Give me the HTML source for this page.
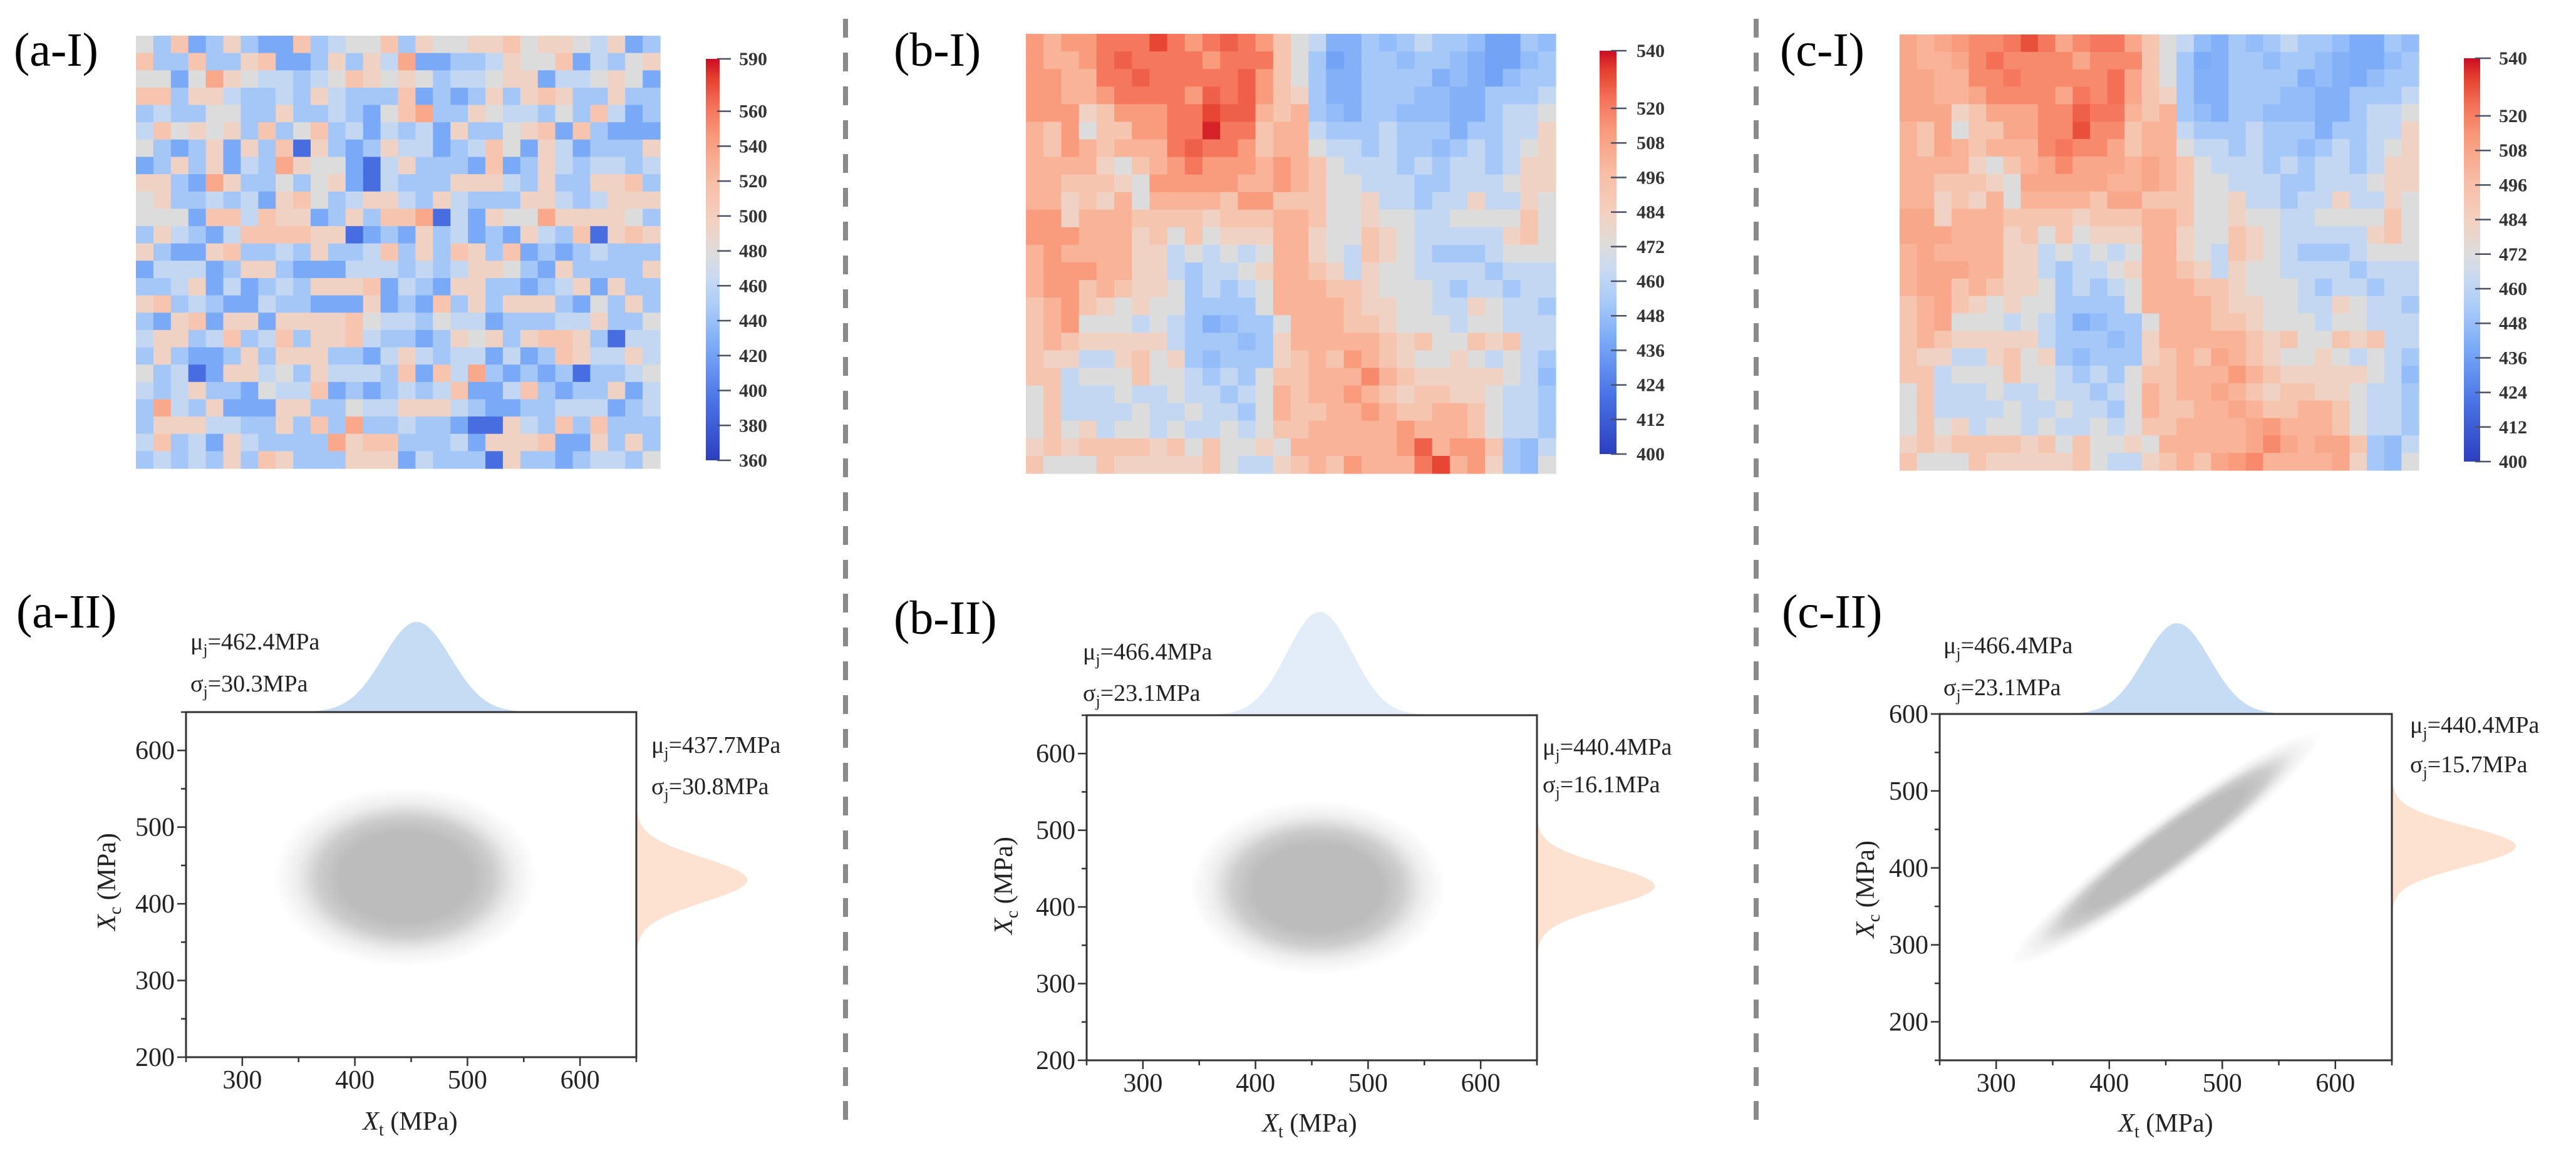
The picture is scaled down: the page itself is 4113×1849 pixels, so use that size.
<!DOCTYPE html>
<html><head><meta charset="utf-8"><style>
html,body{margin:0;padding:0;background:#fff;}
svg, svg text{font-family:"Liberation Serif","Times New Roman","DejaVu Serif",serif;}
</style></head><body>
<svg id="fig" width="4113" height="1844" viewBox="0 0 4113 1844" xmlns="http://www.w3.org/2000/svg" font-family="Liberation Serif, Times New Roman, serif">
<defs>
<linearGradient id="cmapV" x1="0" y1="1" x2="0" y2="0">
<stop offset="0" stop-color="#2c3fbf"/><stop offset="0.15" stop-color="#4b74e6"/><stop offset="0.28" stop-color="#79a9f7"/><stop offset="0.38" stop-color="#a9cbf8"/><stop offset="0.46" stop-color="#cbdaf0"/><stop offset="0.52" stop-color="#dedcda"/><stop offset="0.60" stop-color="#f4d0c0"/><stop offset="0.70" stop-color="#f8bca4"/><stop offset="0.80" stop-color="#f99b7d"/><stop offset="0.88" stop-color="#f5735a"/><stop offset="0.95" stop-color="#e4412f"/><stop offset="1" stop-color="#cc0d24"/>
</linearGradient>
<radialGradient id="cloudGrad" cx="0.5" cy="0.5" r="0.5">
<stop offset="0" stop-color="#bcbcbc" stop-opacity="1"/><stop offset="0.5" stop-color="#bcbcbc" stop-opacity="1"/><stop offset="0.66" stop-color="#c0c0c0" stop-opacity="0.8"/><stop offset="0.82" stop-color="#c6c6c6" stop-opacity="0.3"/><stop offset="1" stop-color="#cccccc" stop-opacity="0"/>
</radialGradient>
</defs>
<line x1="1350" y1="30" x2="1350" y2="1790" stroke="#8a8a8a" stroke-width="8" stroke-dasharray="30 24"/>
<line x1="2804" y1="30" x2="2804" y2="1790" stroke="#8a8a8a" stroke-width="8" stroke-dasharray="30 24"/>
<text x="22" y="105" font-size="76" font-family="Liberation Serif, serif">(a-I)</text>
<text x="1427" y="105" font-size="76" font-family="Liberation Serif, serif">(b-I)</text>
<text x="2842" y="105" font-size="76" font-family="Liberation Serif, serif">(c-I)</text>
<text x="26" y="1002" font-size="76" font-family="Liberation Serif, serif">(a-II)</text>
<text x="1427" y="1012" font-size="76" font-family="Liberation Serif, serif">(b-II)</text>
<text x="2845" y="1002" font-size="76" font-family="Liberation Serif, serif">(c-II)</text>
<g id="layer"></g>
</svg>
<script>
const heatA = [
[478,445,512,425,445,495,445,425,425,512,445,462,478,478,512,445,495,478,478,495,495,512,478,495,495,478,462,495,425,445],
[512,445,445,512,445,445,495,512,425,425,445,495,445,495,462,535,425,425,445,445,462,495,478,478,512,425,462,445,478,495],
[478,478,425,478,535,495,478,462,462,445,462,478,512,495,478,495,478,445,462,462,478,495,495,425,462,462,478,495,478,425],
[512,512,445,495,495,462,445,445,462,445,495,462,445,445,445,512,425,445,425,445,495,445,495,512,495,445,445,495,445,445],
[445,462,445,445,478,478,445,445,495,445,445,462,445,425,478,512,535,445,445,495,478,462,462,445,478,445,512,462,425,445],
[462,512,478,495,478,495,445,512,445,478,512,445,462,425,462,445,462,425,495,445,445,478,495,512,425,512,445,425,425,425],
[478,445,425,445,495,425,495,445,512,390,495,445,425,445,495,462,462,425,445,462,512,478,425,495,462,425,445,445,445,495],
[425,445,495,445,495,425,462,445,535,495,478,478,425,390,462,495,445,445,445,425,512,425,445,495,462,445,462,462,445,462],
[495,495,445,425,535,495,445,445,478,445,478,495,425,390,462,445,445,445,495,495,495,462,445,495,445,445,495,495,512,445],
[478,495,445,445,462,445,462,425,495,512,478,445,462,495,495,462,445,495,462,445,445,445,495,495,462,445,462,495,495,495],
[478,478,478,425,512,512,462,512,495,495,425,445,495,445,512,512,535,390,462,425,495,478,478,535,495,495,495,495,478,445],
[445,495,462,445,425,462,512,512,512,512,495,495,390,425,445,425,495,445,462,425,445,425,495,462,445,512,390,495,512,495],
[495,445,425,425,495,512,445,445,462,445,495,445,445,462,512,445,495,445,512,495,445,512,425,445,425,445,462,445,445,445],
[425,462,462,462,425,445,495,495,445,425,425,425,462,462,462,445,462,445,462,495,495,478,445,425,495,445,445,445,445,495],
[445,445,462,495,425,462,425,445,462,445,495,495,495,512,425,462,445,425,495,495,445,445,425,445,462,495,425,495,445,445],
[495,512,445,462,445,425,425,462,445,445,425,425,425,495,425,445,425,512,445,495,445,495,495,495,445,425,478,445,495,445],
[445,425,495,512,425,495,495,425,495,495,495,495,512,478,462,462,445,478,462,462,425,445,445,445,462,462,495,445,445,478],
[462,495,495,445,462,512,445,462,512,445,495,495,512,462,445,445,425,445,495,478,495,445,495,512,512,495,445,390,462,462],
[445,495,445,425,425,445,495,445,495,495,495,445,445,425,462,495,462,445,462,462,425,462,425,445,512,495,462,462,495,462],
[478,445,462,390,425,495,495,462,478,445,495,462,462,462,445,512,425,512,462,535,445,425,445,425,445,390,445,445,462,478],
[462,445,462,495,445,445,425,478,462,462,512,425,445,425,445,462,445,462,512,425,425,462,512,445,425,445,445,495,425,462],
[445,535,462,445,495,425,425,425,495,495,445,445,478,462,462,495,495,495,462,445,425,425,445,445,462,462,462,425,445,462],
[445,495,495,495,462,462,445,445,495,445,512,445,535,445,445,462,445,445,425,390,390,495,462,445,512,445,512,445,445,445],
[462,512,445,462,425,495,462,445,445,445,445,535,495,512,512,445,445,445,462,425,495,495,495,512,425,425,495,445,495,445],
[445,462,445,462,445,495,445,512,495,445,445,445,495,495,495,425,462,445,445,445,390,495,445,445,425,445,462,462,445,478]
];
const heatB = [
[512,502,512,512,522,522,522,532,522,512,522,527,522,512,492,472,462,442,442,452,447,452,462,452,452,447,437,437,452,447],
[512,502,502,512,522,527,522,522,522,522,512,522,522,522,492,472,452,437,442,452,452,447,452,452,447,442,437,437,447,452],
[512,512,502,502,522,522,527,522,522,522,522,522,527,512,492,472,452,442,442,452,452,452,452,442,447,442,437,447,452,452],
[512,512,502,502,512,522,522,522,522,512,527,522,527,512,492,482,452,442,442,452,452,452,447,447,442,442,452,452,452,462],
[512,512,512,482,492,512,512,512,522,522,532,527,527,502,492,502,452,447,442,452,452,447,447,447,442,442,452,462,462,472],
[502,492,512,472,492,492,512,512,522,522,537,522,522,492,502,502,462,452,452,452,462,452,452,452,442,452,452,462,462,482],
[502,492,512,502,492,502,502,502,522,527,522,522,512,492,502,502,472,462,462,452,462,452,452,447,452,462,452,462,472,482],
[502,502,502,502,482,472,492,502,512,522,512,512,512,502,512,502,492,472,462,462,462,452,462,452,462,462,452,462,482,482],
[502,502,492,492,492,482,472,512,512,512,512,512,502,502,512,502,492,472,472,462,462,462,452,452,462,462,462,472,482,482],
[502,502,482,492,482,502,472,502,502,502,502,492,512,512,492,492,492,472,472,482,462,462,452,462,462,482,462,462,482,472],
[512,512,482,502,502,502,492,492,492,492,482,492,492,492,502,502,492,472,472,482,472,472,462,462,472,472,472,472,492,472],
[512,512,512,502,502,502,482,492,472,492,472,482,482,482,502,502,482,472,472,492,482,472,462,462,462,462,462,482,492,472],
[502,512,502,502,502,502,482,482,462,472,462,472,462,472,502,502,482,472,462,492,482,472,462,452,452,452,462,472,472,472],
[502,512,512,512,502,502,482,482,462,452,462,462,472,482,502,502,492,482,462,482,472,472,462,462,462,462,452,462,462,462],
[502,512,512,492,502,492,482,482,472,452,462,452,462,472,502,502,502,492,492,482,472,472,472,462,452,462,462,452,462,462],
[492,502,512,492,482,472,482,472,472,452,452,452,452,472,502,502,502,502,492,482,482,472,472,462,462,482,472,462,462,452],
[492,502,512,472,472,472,462,472,462,452,442,447,452,452,472,502,502,502,492,492,482,472,472,472,462,472,472,462,462,462],
[492,502,492,482,482,482,482,482,462,452,452,452,447,452,482,502,502,502,502,502,492,482,492,472,472,492,482,492,462,462],
[492,482,482,462,462,482,492,472,482,452,447,452,452,452,482,492,502,492,512,502,492,482,472,472,482,472,462,472,462,452],
[492,492,462,472,472,472,492,472,472,462,452,462,452,472,492,492,502,502,502,517,502,492,482,482,482,482,482,472,462,447],
[472,492,462,462,462,472,462,462,472,462,462,452,462,472,502,492,502,502,512,502,492,482,492,492,482,482,472,462,462,452],
[472,492,462,462,462,462,472,462,462,472,462,462,452,472,502,492,492,502,502,512,502,492,492,502,502,492,472,462,462,452],
[472,492,472,482,462,472,472,462,472,462,462,472,462,472,492,492,502,502,502,502,502,512,502,502,502,492,472,462,462,452],
[482,492,482,492,492,492,492,482,492,472,492,472,472,482,472,502,502,502,502,502,502,512,527,502,512,512,492,452,447,462],
[492,472,472,472,492,482,482,482,482,482,492,472,462,462,482,492,502,492,512,502,502,502,522,532,502,512,482,452,447,472]
];
const heatC = [
[507,502,507,512,517,517,522,530,522,507,517,522,522,507,492,472,462,447,442,452,447,452,462,452,452,447,440,440,452,447],
[507,502,502,507,517,524,517,517,517,517,507,517,517,517,492,472,452,440,442,452,452,447,452,452,447,442,440,440,447,452],
[507,507,502,502,517,517,522,517,517,517,517,517,524,507,492,472,452,442,442,452,452,452,452,442,447,442,440,447,452,452],
[507,507,502,502,507,517,517,517,517,507,522,517,524,507,492,482,452,442,442,452,452,452,447,447,442,442,452,452,452,462],
[507,507,507,482,492,507,507,507,517,517,527,522,522,502,492,502,452,447,442,452,452,447,447,447,442,442,452,462,462,472],
[502,492,507,472,492,492,507,507,517,517,530,517,517,492,502,502,462,452,452,452,462,452,452,452,442,452,452,462,462,482],
[502,492,507,502,492,502,502,502,517,522,517,517,507,492,502,502,472,462,462,452,462,452,452,447,452,462,452,462,472,482],
[502,502,502,502,482,472,492,502,507,517,507,507,507,502,507,502,492,472,462,462,462,452,462,452,462,462,452,462,482,482],
[502,502,492,492,492,482,472,507,507,507,507,507,502,502,507,502,492,472,472,462,462,462,452,452,462,462,462,472,482,482],
[502,502,482,492,482,502,472,502,502,502,502,492,507,507,492,492,492,472,472,482,462,462,452,462,462,482,462,462,482,472],
[507,507,482,502,502,502,492,492,492,492,482,492,492,492,502,502,492,472,472,482,472,472,462,462,472,472,472,472,492,472],
[507,507,507,502,502,502,482,492,472,492,472,482,482,482,502,502,482,472,472,492,482,472,462,462,462,462,462,482,492,472],
[502,507,502,502,502,502,482,482,462,472,462,472,462,472,502,502,482,472,462,492,482,472,462,452,452,452,462,472,472,472],
[502,507,507,507,502,502,482,482,462,452,462,462,472,482,502,502,492,482,462,482,472,472,462,462,462,462,452,462,462,462],
[502,507,507,492,502,492,482,482,472,452,462,452,462,472,502,502,502,492,492,482,472,472,472,462,452,462,462,452,462,462],
[492,502,507,492,482,472,482,472,472,452,452,452,452,472,502,502,502,502,492,482,482,472,472,462,462,482,472,462,462,452],
[492,502,507,472,472,472,462,472,462,452,442,447,452,452,472,502,502,502,492,492,482,472,472,472,462,472,472,462,462,462],
[492,502,492,482,482,482,482,482,462,452,452,452,447,452,482,502,502,502,502,502,492,482,492,472,472,492,482,492,462,462],
[492,482,482,462,462,482,492,472,482,452,447,452,452,452,482,492,502,492,507,502,492,482,472,472,482,472,462,472,462,452],
[492,492,462,472,472,472,492,472,472,462,452,462,452,472,492,492,502,502,502,512,502,492,482,482,482,482,482,472,462,447],
[472,492,462,462,462,472,462,462,472,462,462,452,462,472,502,492,502,502,507,502,492,482,492,492,482,482,472,462,462,452],
[472,492,462,462,462,462,472,462,462,472,462,462,452,472,502,492,492,502,502,507,502,492,492,502,502,492,472,462,462,452],
[472,492,472,482,462,472,472,462,472,462,462,472,462,472,492,492,502,502,502,502,507,512,502,502,502,492,472,462,462,452],
[482,492,482,492,492,492,492,482,492,472,492,472,472,482,472,502,502,502,502,502,507,517,507,502,507,507,492,452,447,462],
[492,472,472,472,492,482,482,482,482,482,492,472,462,462,482,492,502,492,507,512,517,502,502,502,502,507,482,452,447,472]
];
const cbTicksA = [360,380,400,420,440,460,480,500,520,540,560,590];
const cbTicksB = [400,412,424,436,448,460,472,484,496,508,520,540];
const cbTicksC = [400,412,424,436,448,460,472,484,496,508,520,540];
const xTicks = [300,400,500,600];
const yTicks = [200,300,400,500,600];
const cloudMeanX = [445,455,450];
const cloudMeanY = [435,425,425];
const cloudSdX = [31,30,36];
const cloudSdY = [31,30,40];
const cloudRho = [0,0,0.955];
const topMu = [455,457,460];
const topSd = [30,29,29];
const rightMu = [431,427,428];
const rightSd = [29,27,26];
const muTopText = ["462.4","466.4","466.4"];
const sdTopText = ["30.3","23.1","23.1"];
const muRightText = ["437.7","440.4","440.4"];
const sdRightText = ["30.8","16.1","15.7"];

const NS = "http://www.w3.org/2000/svg";
const FONT = "Liberation Serif, Times New Roman, serif";
const layer = document.getElementById('layer');
function mk(tag, attrs, parent){const e=document.createElementNS(NS,tag);for(const k in attrs)e.setAttribute(k,attrs[k]);if(tag==='text')e.setAttribute('font-family',FONT);(parent||layer).appendChild(e);return e;}
const stops=[[0,[44,63,191]],[0.15,[75,116,230]],[0.28,[121,169,247]],[0.38,[169,203,248]],[0.46,[203,218,240]],[0.52,[222,220,218]],[0.60,[244,208,192]],[0.70,[248,188,164]],[0.80,[249,155,125]],[0.88,[245,115,90]],[0.95,[228,65,47]],[1,[204,13,36]]];
function cmap(t){t=Math.max(0,Math.min(1,t));for(let i=1;i<stops.length;i++){if(t<=stops[i][0]){const a=stops[i-1],b=stops[i];const f=(t-a[0])/(b[0]-a[0]);const c=a[1].map((v,j)=>Math.round(v+(b[1][j]-v)*f));return 'rgb('+c.join(',')+')';}}return 'rgb(204,13,36)';}

const heatLayouts=[
 {id:'a',data:heatA,x0:217,x1:1054,y0:57,y1:748,vmin:360,vmax:590,ticks:cbTicksA,cb:{x:1127,w:22,y0:94,y1:735,tx0:1145,tx1:1167,lx:1180}},
 {id:'b',data:heatB,x0:1638,x1:2484,y0:54,y1:756,vmin:400,vmax:540,ticks:cbTicksB,cb:{x:2554,w:27,y0:81,y1:725,tx0:2572,tx1:2597,lx:2613}},
 {id:'c',data:heatC,x0:3033,x1:3862,y0:55,y1:751,vmin:400,vmax:540,ticks:cbTicksC,cb:{x:3934,w:26,y0:93,y1:737,tx0:3952,tx1:3977,lx:3990}}
];
heatLayouts.forEach(L=>{
 const g=mk('g',{});
 
 
 const rows=L.data.length, cols=L.data[0].length;
 const cw=(L.x1-L.x0)/cols, ch=(L.y1-L.y0)/rows;
 L.data.forEach((row,r)=>row.forEach((v,c)=>{
  const rc=mk('rect',{x:(L.x0+c*cw).toFixed(2),y:(L.y0+r*ch).toFixed(2),width:(cw+0.6).toFixed(2),height:(ch+0.6).toFixed(2),fill:cmap((v-L.vmin)/(L.vmax-L.vmin))},g);
  
  
 }));
 const cbg=mk('g',{});
 
 
 mk('rect',{x:L.cb.x,y:L.cb.y0,width:L.cb.w,height:L.cb.y1-L.cb.y0,fill:'url(#cmapV)'},cbg);
 const ys=v=>L.cb.y1-(v-L.vmin)/(L.vmax-L.vmin)*(L.cb.y1-L.cb.y0);
 L.ticks.forEach(t=>{
  const y=ys(t);
  const tl=mk('line',{x1:L.cb.tx0,x2:L.cb.tx1,y1:y,y2:y,stroke:'#4a5066','stroke-width':2.5},cbg);
  
  
  const tx=mk('text',{x:L.cb.lx,y:y+10,'font-size':30,'font-weight':'bold',fill:'#333'},cbg);
  tx.textContent=t;
  
  
 });
});

const scat=[
 {id:'a',x0:297,x1:1016,y0:1137,y1:1688,ymin:200,ymax:650,topH:144,rightW:177,topColor:'#c6dcf5',tt:[304,1037,1104],rt:[1040,1202,1268],xl:[655,1804],yl:[170,1408]},
 {id:'b',x0:1735,x1:2454,y0:1142,y1:1693,ymin:200,ymax:650,topH:165,rightW:188,topColor:'#e3edfa',tt:[1729,1053,1119],rt:[2463,1205,1265],xl:[2091,1807],yl:[1602,1414]},
 {id:'c',x0:3097,x1:3819,y0:1140,y1:1693,ymin:150,ymax:600,topH:145,rightW:198,topColor:'#c6dcf5',tt:[3103,1043,1110],rt:[3848,1170,1233],xl:[3458,1807],yl:[2978,1420]}
];
function muText(parent,x,y,sym,val,name){
 const t=mk('text',{x:x,y:y,'font-size':38,fill:'#222'},parent);
 
 
 const a=mk('tspan',{},t);a.textContent=sym;
 const b=mk('tspan',{dy:9,'font-size':26},t);b.textContent='j';
 const c=mk('tspan',{dy:-9},t);c.textContent='='+val+'MPa';
}
scat.forEach((P,i)=>{
 const g=mk('g',{});
 
 
 const xs=v=>P.x0+(v-250)/400*(P.x1-P.x0);
 const ys=v=>P.y1-(v-P.ymin)/(P.ymax-P.ymin)*(P.y1-P.y0);
 const kx=(P.x1-P.x0)/400, ky=(P.y1-P.y0)/(P.ymax-P.ymin);
 let d='M'+xs(topMu[i]-4.2*topSd[i])+','+P.y0;
 for(let k=0;k<=120;k++){const v=topMu[i]-4.2*topSd[i]+k*8.4*topSd[i]/120;const z=(v-topMu[i])/topSd[i];d+=' L'+xs(v).toFixed(1)+','+(P.y0-P.topH*Math.exp(-z*z/2)).toFixed(1);}
 d+=' Z';
 const tp=mk('path',{d:d,fill:P.topColor},g);
 
 
 d='M'+P.x1+','+ys(rightMu[i]+4.2*rightSd[i]);
 for(let k=0;k<=120;k++){const v=rightMu[i]+4.2*rightSd[i]-k*8.4*rightSd[i]/120;const z=(v-rightMu[i])/rightSd[i];d+=' L'+(P.x1+P.rightW*Math.exp(-z*z/2)).toFixed(1)+','+ys(v).toFixed(1);}
 d+=' Z';
 const rp=mk('path',{d:d,fill:'#fde2d2'},g);
 
 
 const rho=cloudRho[i];
 const m=[kx*cloudSdX[i],-ky*rho*cloudSdY[i],0,-ky*cloudSdY[i]*Math.sqrt(1-rho*rho),xs(cloudMeanX[i]),ys(cloudMeanY[i])];
 const cl=mk('circle',{cx:0,cy:0,r:3.8,fill:'url(#cloudGrad)',transform:'matrix('+m.map(v=>v.toFixed(4)).join(',')+')'},g);
 
 
 const bx=mk('rect',{x:P.x0,y:P.y0,width:P.x1-P.x0,height:P.y1-P.y0,fill:'none',stroke:'#333','stroke-width':3},g);
 
 
 for(let v=250;v<=650;v+=50){
  const major=v%100===0;
  const tk=mk('line',{x1:xs(v),x2:xs(v),y1:P.y1,y2:P.y1+(major?14:8),stroke:'#333','stroke-width':2.5},g);
  
  
 }
 for(let v=P.ymin;v<=P.ymax;v+=50){
  const major=v%100===0;
  const tk=mk('line',{x1:P.x0,x2:P.x0-(major?14:8),y1:ys(v),y2:ys(v),stroke:'#333','stroke-width':2.5},g);
  
  
 }
 xTicks.forEach(v=>{
  const t=mk('text',{x:xs(v),y:P.y1+50,'font-size':42,'text-anchor':'middle',fill:'#222'},g);
  t.textContent=v;
  
  
 });
 yTicks.forEach(v=>{
  const t=mk('text',{x:P.x0-18,y:ys(v)+14,'font-size':42,'text-anchor':'end',fill:'#222'},g);
  t.textContent=v;
  
  
 });
 const xl=mk('text',{x:P.xl[0],y:P.xl[1],'font-size':42,'text-anchor':'middle',fill:'#222'},g);
 
 
 let s=mk('tspan',{'font-style':'italic'},xl);s.textContent='X';
 s=mk('tspan',{dy:9,'font-size':28},xl);s.textContent='t';
 s=mk('tspan',{dy:-9},xl);s.textContent=' (MPa)';
 const yl=mk('text',{x:0,y:0,'font-size':42,'text-anchor':'middle',fill:'#222',transform:'translate('+(P.yl[0]+14)+','+P.yl[1]+') rotate(-90)'},g);
 
 
 s=mk('tspan',{'font-style':'italic'},yl);s.textContent='X';
 s=mk('tspan',{dy:9,'font-size':28},yl);s.textContent='c';
 s=mk('tspan',{dy:-9},yl);s.textContent=' (MPa)';
 muText(g,P.tt[0],P.tt[1],'\u03bc',muTopText[i],'top-mean-annotation');
 muText(g,P.tt[0],P.tt[2],'\u03c3',sdTopText[i],'top-std-annotation');
 muText(g,P.rt[0],P.rt[1],'\u03bc',muRightText[i],'right-mean-annotation');
 muText(g,P.rt[0],P.rt[2],'\u03c3',sdRightText[i],'right-std-annotation');
});
</script>
</body></html>
